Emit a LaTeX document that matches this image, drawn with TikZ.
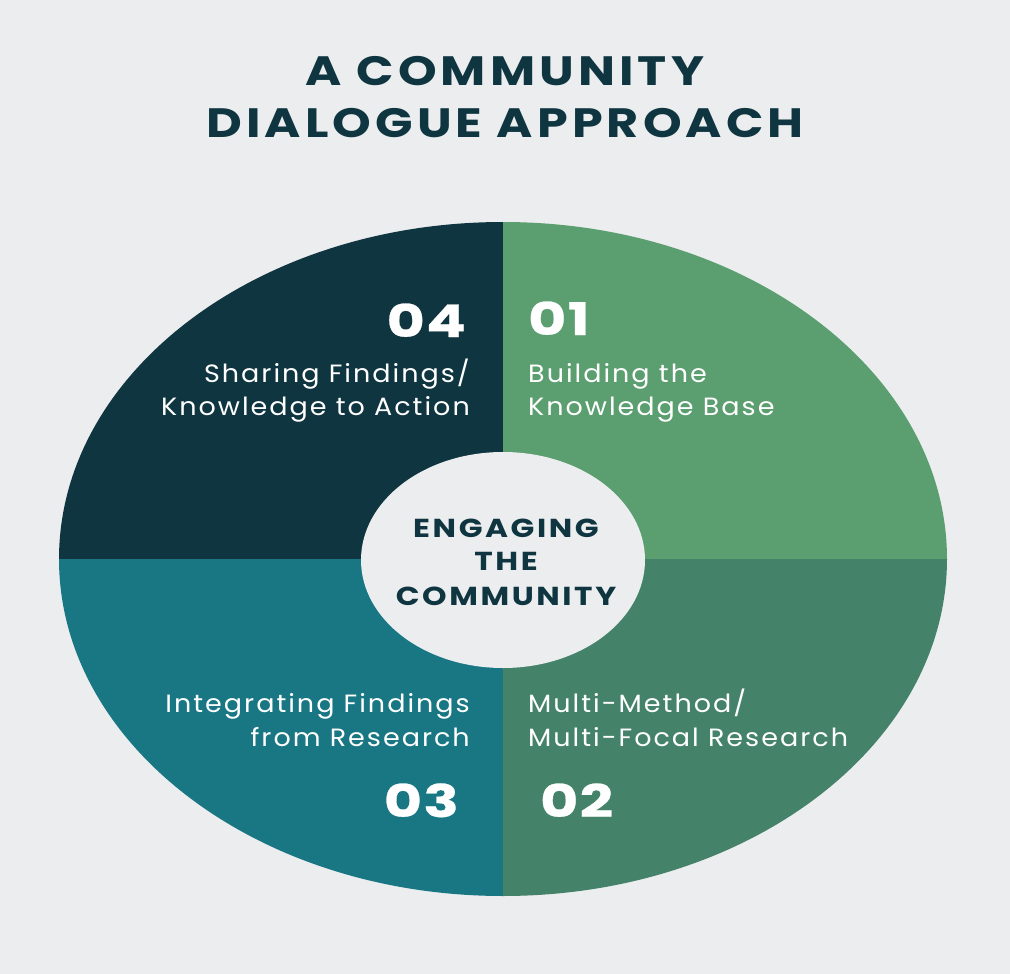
\documentclass[tikz,border=0pt]{standalone}
\usepackage{fontspec}
\setmainfont{Poppins}
\newfontfamily\headfont{Poppins}[FakeStretch=1.2, LetterSpace=10]
\newfontfamily\numfont{Poppins}[FakeStretch=1.3, LetterSpace=3, FakeBold=0.6]
\newfontfamily\labfont{Poppins}[FakeStretch=1.08, LetterSpace=8]
\definecolor{bg}{HTML}{ECEDEF}
\definecolor{ink}{HTML}{0E3540}
\definecolor{qdark}{HTML}{0E3540}
\definecolor{qlight}{HTML}{5B9E6F}
\definecolor{qgreen}{HTML}{44836A}
\definecolor{qteal}{HTML}{197784}
\tikzset{
  titletext/.style={inner sep=0pt, text=ink, font=\headfont\fontsize{41}{41}\selectfont\bfseries},
  centertext/.style={inner sep=0pt, text=ink, font=\headfont\fontsize{26}{26}\selectfont\bfseries},
  numtext/.style={inner sep=0pt, text=white, font=\numfont\fontsize{45}{45}\selectfont\bfseries},
  labeltext/.style={inner sep=0pt, text=white, font=\labfont\fontsize{25}{25}\selectfont},
}
\begin{document}
\begin{tikzpicture}[x=1pt,y=-1pt]
\fill[bg] (0,0) rectangle (1010,974);
\useasboundingbox (0,0) rectangle (1010,974);
\begin{scope}
  \clip (503,559) ellipse [x radius=444, y radius=337];
  \fill[qdark]  (0,0) rectangle (503,559);
  \fill[qlight] (503,0) rectangle (1010,559);
  \fill[qteal]  (0,559) rectangle (503,974);
  \fill[qgreen] (503,559) rectangle (1010,974);
\end{scope}
\fill[bg] (503,560) ellipse [x radius=142, y radius=108];
% title
\node[titletext, anchor=base] (t1) at (505,85) {A COMMUNITY};
\node[titletext, anchor=base] (t2) at (505,137) {DIALOGUE APPROACH};
% center
\node[centertext, anchor=base] (c1) at (506,537) {ENGAGING};
\node[centertext, anchor=base] (c2) at (506,570) {THE};
\node[centertext, anchor=base] (c3) at (506,605) {COMMUNITY};
% 04
\node[numtext, anchor=base east] (n4) at (466,337) {04};
\node[labeltext, anchor=base east] (l4a) at (470,382) {Sharing Findings/};
\node[labeltext, anchor=base east] (l4b) at (470,415) {Knowledge to Action};
% 01
\node[numtext, anchor=base west] (n1) at (528,335) {01};
\node[labeltext, anchor=base west] (l1a) at (528,382) {Building the};
\node[labeltext, anchor=base west] (l1b) at (528,415) {Knowledge Base};
% 03
\node[labeltext, anchor=base east] (l3a) at (470,712) {Integrating Findings};
\node[labeltext, anchor=base east] (l3b) at (470,746) {from Research};
\node[numtext, anchor=base east] (n3) at (459,817) {03};
% 02
\node[labeltext, anchor=base west] (l2a) at (528,712) {Multi-Method/};
\node[labeltext, anchor=base west] (l2b) at (528,746) {Multi-Focal Research};
\node[numtext, anchor=base west] (n2) at (540,817) {02};
\end{tikzpicture}
\end{document}
